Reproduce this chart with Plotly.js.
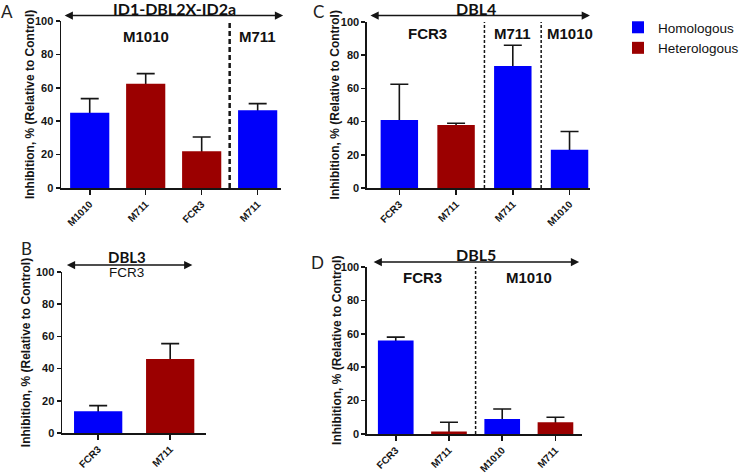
<!DOCTYPE html>
<html>
<head>
<meta charset="utf-8">
<script src="https://cdn.plot.ly/plotly-3.0.1.min.js"></script>
<style>html,body{margin:0;padding:0;background:#fff;}#chart{width:744px;height:473px;}</style>
</head>
<body>
<div id="chart"></div>
<script>
// ---------- DATA ----------
// Panel A: ID1-DBL2X-ID2a
const aCategories = ['M1010', 'M711', 'FCR3', 'M711'];
const aGroups     = ['M1010', 'M1010', 'M1010', 'M711'];
const aTypes      = ['Homologous', 'Heterologous', 'Heterologous', 'Homologous'];
const aValues     = [45, 62.5, 22, 46.5];
const aErrors     = [8.5, 6, 8.5, 4];

// Panel B: DBL3
const bCategories = ['FCR3', 'M711'];
const bGroups     = ['FCR3', 'FCR3'];
const bTypes      = ['Homologous', 'Heterologous'];
const bValues     = [13.5, 46];
const bErrors     = [3.5, 9.5];

// Panel C: DBL4
const cCategories = ['FCR3', 'M711', 'M711', 'M1010'];
const cGroups     = ['FCR3', 'FCR3', 'M711', 'M1010'];
const cTypes      = ['Homologous', 'Heterologous', 'Homologous', 'Homologous'];
const cValues     = [41, 38, 73.5, 23];
const cErrors     = [21.5, 1, 12.5, 11];

// Panel D: DBL5
const dCategories = ['FCR3', 'M711', 'M1010', 'M711'];
const dGroups     = ['FCR3', 'FCR3', 'M1010', 'M1010'];
const dTypes      = ['Homologous', 'Heterologous', 'Homologous', 'Heterologous'];
const dValues     = [56, 1.5, 9, 7];
const dErrors     = [2, 5.5, 6, 3];

const yTickValues = [0, 20, 40, 60, 80, 100];
const legendNames = ['Homologous', 'Heterologous'];
const yTitleText  = 'Inhibition, % (Relative to Control)';

// ---------- STYLE / LAYOUT ----------
const W = 744, H = 473;
const fx = p => p / W;
const fy = p => 1 - p / H;
const COLORS = {Homologous: '#0000fa', Heterologous: '#9b0000'};
const INK = '#151515';
const ARIAL = 'Liberation Sans, Arial, sans-serif';
const CAL = 'Lato, Liberation Sans, sans-serif';

const panels = [
  {id: '', letter: 'A', title: 'ID1-DBL2X-ID2a', cats: aCategories, groups: aGroups, types: aTypes, vals: aValues, errs: aErrors,
   xdom: [62, 285], ydom: [188, 21], xr: [-0.51, 3.42], bw: 0.7, yTitleX: 30,
   letterPos: [7, 11], titlePos: [176.5, 9], titleSize: 16, arrow: [67, 287, 15.5], groupY: 91, groupFont: {size: 15, weight: 700}, groupShift: 0,
   dash: {width: 2.5, dash: '5px,3px'}},
  {id: '2', letter: 'C', title: 'DBL4', cats: cCategories, groups: cGroups, types: cTypes, vals: cValues, errs: cErrors,
   xdom: [372, 598], ydom: [188, 22], xr: [-0.57, 3.36], bw: 0.66, yTitleX: 340,
   letterPos: [323, 12], titlePos: [482, 9], titleSize: 16, arrow: [377, 598, 15.5], groupY: 93, groupFont: {size: 15, weight: 700}, groupShift: 0,
   dash: {width: 1.5, dash: '3px,2px'}},
  {id: '3', letter: 'B', title: 'DBL3', cats: bCategories, groups: bGroups, types: bTypes, vals: bValues, errs: bErrors,
   xdom: [63, 209], ydom: [433, 272], xr: [-0.5, 1.5], bw: 0.67, yTitleX: 26,
   letterPos: [27, 248], titlePos: [129, 256.5], titleSize: 15, arrow: [68, 195, 265], groupY: 99.4, groupFont: {size: 13.5, weight: 400}, groupShift: -8,
   dash: {width: 1.5, dash: '3px,2px'}},
  {id: '4', letter: 'D', title: 'DBL5', cats: dCategories, groups: dGroups, types: dTypes, vals: dValues, errs: dErrors,
   xdom: [372, 590], ydom: [434, 267], xr: [-0.54, 3.5], bw: 0.67, yTitleX: 341,
   letterPos: [322, 262], titlePos: [482, 254], titleSize: 16, arrow: [380, 587, 262], groupY: 94, groupFont: {size: 15, weight: 700}, groupShift: 0,
   dash: {width: 1.5, dash: '3px,2px'}}
];

const traces = [];
const annotations = [];
const shapes = [];
const layout = {
  width: W, height: H,
  margin: {l: 0, r: 0, t: 0, b: 0},
  paper_bgcolor: '#ffffff', plot_bgcolor: '#ffffff',
  barmode: 'overlay',
  showlegend: true,
  legend: {x: fx(626.5), y: fy(12), xanchor: 'left', yanchor: 'top',
           font: {family: ARIAL, size: 13.5, color: '#111'}, bgcolor: 'rgba(0,0,0,0)',
           traceorder: 'normal', tracegroupgap: 0},
  font: {family: ARIAL, color: INK}
};

const shown = new Set();
panels.forEach(p => {
  const xa = 'x' + p.id, ya = 'y' + p.id;
  legendNames.forEach(t => {
    const idx = p.cats.map((_, i) => i).filter(i => p.types[i] === t);
    if (!idx.length) return;
    const ys = idx.map(i => p.vals[i]);
    // carrier trace (transparent bars) holding the upper error bars; its lower cap is hidden under the real bar
    traces.push({
      type: 'bar', name: t + ' SEM', legendgroup: t, showlegend: false,
      x: idx, y: ys, xaxis: xa, yaxis: ya, width: p.bw,
      marker: {color: 'rgba(0,0,0,0)', line: {width: 0}},
      error_y: {type: 'data', symmetric: false, array: idx.map(i => p.errs[i]),
                arrayminus: ys.map(v => Math.min(2, v)),
                color: INK, thickness: 1.6, width: 9},
      hoverinfo: 'skip'
    });
    traces.push({
      type: 'bar', name: t, legendgroup: t,
      showlegend: !shown.has(t),
      x: idx, y: ys, xaxis: xa, yaxis: ya, width: p.bw,
      marker: {color: COLORS[t], line: {width: 0}},
      hoverinfo: 'x+y'
    });
    shown.add(t);
  });

  layout['xaxis' + p.id] = {
    domain: [fx(p.xdom[0]), fx(p.xdom[1])], range: p.xr, anchor: ya,
    tickmode: 'array', tickvals: p.cats.map((_, i) => i), ticktext: p.cats, tickangle: -45,
    showline: true, linecolor: INK, linewidth: 1.6, ticks: 'outside', ticklen: 5, tickwidth: 1.6, tickcolor: INK,
    showgrid: false, zeroline: false, fixedrange: true,
    tickfont: {family: ARIAL, size: 10, weight: 700, color: INK}
  };
  layout['yaxis' + p.id] = {
    domain: [fy(p.ydom[0]), fy(p.ydom[1])], range: [0, 100], anchor: xa,
    tickmode: 'array', tickvals: yTickValues,
    showline: true, linecolor: INK, linewidth: 1.6, ticks: 'outside', ticklen: 4, tickwidth: 1.6, tickcolor: INK,
    showgrid: false, zeroline: false, fixedrange: true,
    tickfont: {family: ARIAL, size: 11, weight: 700, color: INK}
  };

  // y-axis title, centred on the axis
  annotations.push({text: yTitleText, xref: 'paper', yref: ya + ' domain', x: fx(p.yTitleX), y: 0.5,
    textangle: -90, xanchor: 'center', yanchor: 'middle', showarrow: false, borderpad: 0,
    font: {family: ARIAL, size: 12, weight: 700, color: INK}});
  // panel letter
  annotations.push({text: p.letter, xref: 'paper', yref: 'paper', x: fx(p.letterPos[0]), y: fy(p.letterPos[1]),
    xanchor: 'center', yanchor: 'middle', showarrow: false, borderpad: 0, font: {family: CAL, size: 17, color: '#222'}});
  // construct title
  annotations.push({text: p.title, xref: 'paper', yref: 'paper', x: fx(p.titlePos[0]), y: fy(p.titlePos[1]),
    xanchor: 'center', yanchor: 'middle', showarrow: false, borderpad: 0,
    font: {family: CAL, size: p.titleSize, weight: 700, color: '#111'}});
  // double-headed arrow
  annotations.push({text: '', xref: 'paper', yref: 'paper', x: fx(p.arrow[1]), y: fy(p.arrow[2]),
    axref: 'pixel', ayref: 'pixel', ax: -(p.arrow[1] - p.arrow[0]), ay: 0,
    showarrow: true, arrowside: 'end+start', arrowhead: 2, arrowsize: 1.1, arrowwidth: 1.5, arrowcolor: INK,
    standoff: 0, startstandoff: 0});

  // group labels and dividers
  const uniq = [...new Set(p.groups)];
  uniq.forEach(g => {
    const ids = p.groups.map((v, i) => v === g ? i : -1).filter(i => i >= 0);
    const mean = ids.reduce((s, v) => s + v, 0) / ids.length;
    annotations.push({text: g, xref: xa, yref: ya, x: mean, y: p.groupY, xshift: p.groupShift,
      xanchor: 'center', yanchor: 'middle', showarrow: false, borderpad: 0,
      font: {family: ARIAL, size: p.groupFont.size, weight: p.groupFont.weight, color: '#111'}});
  });
  for (let i = 1; i < p.groups.length; i++) {
    if (p.groups[i] !== p.groups[i - 1]) {
      shapes.push({type: 'line', xref: xa, yref: ya, x0: i - 0.5, x1: i - 0.5, y0: 0, y1: 100,
        line: {color: INK, width: p.dash.width, dash: p.dash.dash}});
    }
  }
});

layout.annotations = annotations;
layout.shapes = shapes;

Plotly.newPlot('chart', traces, layout, {staticPlot: true, displayModeBar: false});
</script>
</body>
</html>
